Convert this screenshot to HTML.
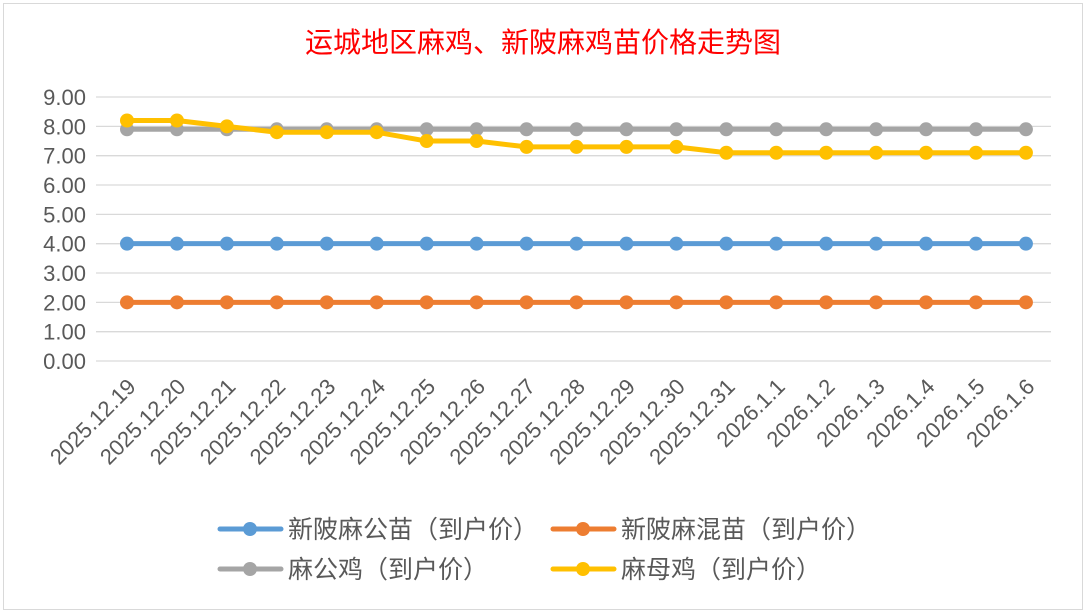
<!DOCTYPE html>
<html><head><meta charset="utf-8"><style>
html,body{margin:0;padding:0;background:#fff;}
svg{display:block;}
</style></head><body>
<svg width="1086" height="613" viewBox="0 0 1086 613" xmlns="http://www.w3.org/2000/svg">
<rect x="0" y="0" width="1086" height="613" fill="#fff"/>
<rect x="3.5" y="3.5" width="1079" height="606" fill="#fff" stroke="#d9d9d9" stroke-width="1"/>
<text x="543" y="52" text-anchor="middle" font-family="'Liberation Sans','Noto Sans CJK SC',sans-serif" font-size="28" fill="#ff0000">运城地区麻鸡、新陂麻鸡苗价格走势图</text>
<g id="grid" stroke="#d9d9d9" stroke-width="1.3"></g>
<g id="ylab" font-family="'Liberation Sans',sans-serif" font-size="22" fill="#595959" text-anchor="end"></g>
<g id="xlab" font-family="'Liberation Sans',sans-serif" font-size="22" fill="#595959" text-anchor="end"></g>
<g id="series"></g>
<g font-family="'Liberation Sans','Noto Sans CJK SC',sans-serif" font-size="25" fill="#595959">
<line x1="220" y1="529" x2="281" y2="529" stroke="#5b9bd5" stroke-width="5" stroke-linecap="round"/><circle cx="250" cy="529" r="7" fill="#5b9bd5"/>
<text x="288" y="538">新陂麻公苗（到户价）</text>
<line x1="553" y1="529" x2="614" y2="529" stroke="#ed7d31" stroke-width="5" stroke-linecap="round"/><circle cx="583" cy="529" r="7" fill="#ed7d31"/>
<text x="621" y="538">新陂麻混苗（到户价）</text>
<line x1="220" y1="569" x2="281" y2="569" stroke="#a5a5a5" stroke-width="5" stroke-linecap="round"/><circle cx="250" cy="569" r="7" fill="#a5a5a5"/>
<text x="288" y="578">麻公鸡（到户价）</text>
<line x1="553" y1="569" x2="614" y2="569" stroke="#ffc000" stroke-width="5" stroke-linecap="round"/><circle cx="583" cy="569" r="7" fill="#ffc000"/>
<text x="621" y="578">麻母鸡（到户价）</text>
</g>
</svg>
<script>
var NS="http://www.w3.org/2000/svg";
function el(t,a,p,txt){var e=document.createElementNS(NS,t);for(var k in a)e.setAttribute(k,a[k]);if(txt)e.textContent=txt;document.getElementById(p).appendChild(e);return e;}
var y0=361,unit=29.33;function Y(v){return y0-v*unit;}
for(var i=0;i<=9;i++){el('line',{x1:96,x2:1051,y1:Y(i),y2:Y(i)},'grid');el('text',{x:86,y:Y(i)+8},'ylab',i.toFixed(2));}
var labels=["2025.12.19","2025.12.20","2025.12.21","2025.12.22","2025.12.23","2025.12.24","2025.12.25","2025.12.26","2025.12.27","2025.12.28","2025.12.29","2025.12.30","2025.12.31","2026.1.1","2026.1.2","2026.1.3","2026.1.4","2026.1.5","2026.1.6"];
function X(i){return 127+i*49.94;}
labels.forEach(function(l,i){var x=X(i)+10,y=388;el('text',{x:x,y:y,transform:'rotate(-45 '+x+' '+y+')'},'xlab',l);});
var n=19;function fill(v){var a=[];for(var i=0;i<n;i++)a.push(v);return a;}
var series=[
 [fill(4),'#5b9bd5'],[fill(2),'#ed7d31'],[fill(7.9),'#a5a5a5'],
 [[8.2,8.2,8.0,7.8,7.8,7.8,7.5,7.5,7.3,7.3,7.3,7.3,7.1,7.1,7.1,7.1,7.1,7.1,7.1],'#ffc000']];
series.forEach(function(s){var pts=s[0].map(function(v,i){return X(i)+','+Y(v);}).join(' ');
 el('polyline',{points:pts,fill:'none',stroke:s[1],'stroke-width':5,'stroke-linejoin':'round','stroke-linecap':'round'},'series');
 s[0].forEach(function(v,i){el('circle',{cx:X(i),cy:Y(v),r:7,fill:s[1]},'series');});});
</script>
</body></html>
